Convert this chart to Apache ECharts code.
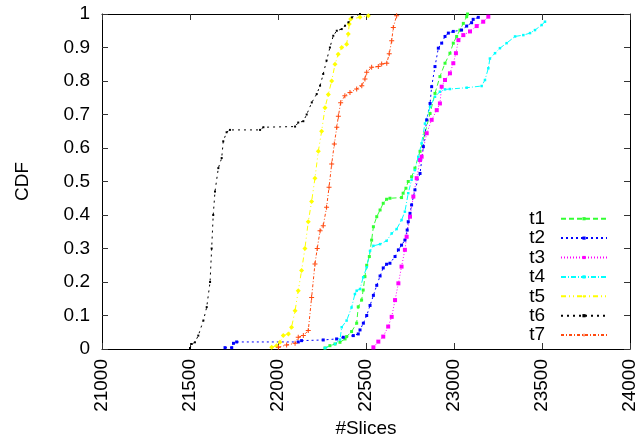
<!DOCTYPE html>
<html>
<head>
<meta charset="utf-8">
<script src="https://cdn.jsdelivr.net/npm/echarts@6/dist/echarts.min.js"></script>
<style>
html,body{margin:0;padding:0;background:#fff;overflow:hidden;}
#chart{width:638px;height:437px;}
</style>
</head>
<body>
<div id="chart"></div>
<script>
// Axis ticks
var xTicks = [21000, 21500, 22000, 22500, 23000, 23500, 24000];
var yTicks = [0, 0.1, 0.2, 0.3, 0.4, 0.5, 0.6, 0.7, 0.8, 0.9, 1];
var seriesNames = ['t1', 't2', 't3', 't4', 't5', 't6', 't7'];

// t1
var t1X = [22267, 22295, 22324, 22352, 22381, 22390, 22418, 22447, 22456, 22475, 22484, 22494, 22504, 22519, 22532, 22542, 22561, 22580, 22598, 22617, 22636, 22702, 22711, 22727, 22740, 22759, 22778, 22807, 22835, 22864, 22892, 22920, 22949, 22977, 22996, 23015, 23034, 23053, 23072, 23077];
var t1Y = [0.003, 0.01, 0.015, 0.02, 0.03, 0.037, 0.052, 0.077, 0.126, 0.146, 0.176, 0.216, 0.25, 0.276, 0.325, 0.365, 0.395, 0.415, 0.435, 0.447, 0.45, 0.452, 0.465, 0.48, 0.5, 0.514, 0.54, 0.59, 0.644, 0.703, 0.763, 0.813, 0.853, 0.883, 0.913, 0.933, 0.952, 0.972, 0.992, 1.0];
// t2
var t2X = [21699, 21737, 21747, 21765, 22115, 22134, 22257, 22333, 22371, 22428, 22456, 22466, 22485, 22504, 22523, 22542, 22561, 22580, 22598, 22617, 22636, 22665, 22684, 22702, 22721, 22734, 22740, 22750, 22759, 22778, 22807, 22826, 22845, 22864, 22873, 22892, 22911, 22930, 22949, 22968, 22996, 23043, 23072, 23100, 23109, 23138];
var t2Y = [0.004, 0.004, 0.017, 0.021, 0.021, 0.025, 0.027, 0.03, 0.035, 0.04, 0.045, 0.057, 0.077, 0.1, 0.13, 0.16, 0.19, 0.218, 0.242, 0.253, 0.256, 0.276, 0.296, 0.31, 0.325, 0.355, 0.38, 0.405, 0.43, 0.475, 0.524, 0.604, 0.684, 0.733, 0.783, 0.843, 0.898, 0.913, 0.933, 0.943, 0.948, 0.952, 0.964, 0.974, 0.984, 0.99];
// t3
var t3X = [22542, 22570, 22598, 22626, 22646, 22665, 22684, 22702, 22721, 22731, 22750, 22769, 22788, 22807, 22816, 22845, 22873, 22902, 22920, 22930, 22949, 22977, 22996, 23011, 23025, 23053, 23091, 23129, 23166, 23195];
var t3Y = [0.005, 0.022, 0.037, 0.067, 0.096, 0.146, 0.196, 0.246, 0.296, 0.335, 0.395, 0.455, 0.51, 0.564, 0.574, 0.644, 0.684, 0.713, 0.733, 0.783, 0.803, 0.823, 0.853, 0.883, 0.922, 0.937, 0.948, 0.964, 0.977, 0.992];
// t4
var t4X = [22267, 22324, 22352, 22362, 22390, 22418, 22437, 22447, 22466, 22484, 22504, 22523, 22542, 22580, 22617, 22646, 22674, 22702, 22721, 22740, 22759, 22778, 22797, 22816, 22835, 22864, 22892, 22920, 22949, 22977, 23072, 23157, 23176, 23195, 23204, 23233, 23261, 23299, 23347, 23394, 23432, 23460, 23498, 23517];
var t4Y = [0.003, 0.015, 0.028, 0.065, 0.085, 0.124, 0.164, 0.174, 0.179, 0.214, 0.244, 0.293, 0.308, 0.313, 0.323, 0.345, 0.358, 0.385, 0.41, 0.465, 0.505, 0.534, 0.574, 0.614, 0.673, 0.723, 0.753, 0.768, 0.775, 0.776, 0.78, 0.785, 0.803, 0.838, 0.867, 0.883, 0.898, 0.913, 0.933, 0.937, 0.943, 0.952, 0.967, 0.977];
// t5
var t5X = [21964, 21992, 22011, 22030, 22059, 22077, 22097, 22115, 22134, 22153, 22172, 22191, 22210, 22229, 22248, 22267, 22286, 22305, 22324, 22342, 22362, 22390, 22399, 22405, 22413, 22466, 22513];
var t5Y = [0.005, 0.01, 0.02, 0.04, 0.045, 0.065, 0.114, 0.174, 0.234, 0.3, 0.38, 0.44, 0.51, 0.59, 0.65, 0.72, 0.76, 0.8, 0.85, 0.88, 0.9, 0.91, 0.94, 0.97, 0.985, 0.99, 0.995];
// t6
var t6X = [21500, 21510, 21528, 21547, 21576, 21595, 21614, 21623, 21632, 21642, 21661, 21680, 21689, 21708, 21727, 21898, 21917, 22097, 22115, 22144, 22163, 22192, 22220, 22239, 22257, 22276, 22295, 22314, 22334, 22362, 22381, 22400, 22420, 22466];
var t6Y = [0.003, 0.015, 0.02, 0.04, 0.085, 0.125, 0.2, 0.3, 0.4, 0.47, 0.54, 0.57, 0.62, 0.647, 0.654, 0.654, 0.662, 0.664, 0.676, 0.68, 0.7, 0.736, 0.761, 0.786, 0.821, 0.861, 0.9, 0.935, 0.95, 0.955, 0.965, 0.975, 0.99, 1.0];
// t7
var t7X = [22002, 22049, 22097, 22115, 22144, 22172, 22191, 22210, 22223, 22239, 22257, 22276, 22290, 22305, 22320, 22334, 22343, 22356, 22380, 22409, 22447, 22476, 22494, 22504, 22532, 22570, 22589, 22618, 22632, 22646, 22655, 22674];
var t7Y = [0.005, 0.012, 0.017, 0.035, 0.04, 0.055, 0.154, 0.254, 0.3, 0.353, 0.368, 0.423, 0.483, 0.552, 0.612, 0.662, 0.695, 0.735, 0.756, 0.766, 0.776, 0.786, 0.806, 0.826, 0.841, 0.843, 0.851, 0.853, 0.881, 0.92, 0.96, 0.995];

var allX = [t1X, t2X, t3X, t4X, t5X, t6X, t7X];
var allY = [t1Y, t2Y, t3Y, t4Y, t5Y, t6Y, t7Y];

var colors = ['#33ff33', '#0000ff', '#ff00ff', '#00ffff', '#ffff00', '#000000', '#ff4a10'];
var dashes = [[5, 3], [2, 3], [1, 2], [5, 2, 1, 2], [5, 3, 1, 3, 1, 3], [2, 4], [3, 2, 1, 2]];
var plusPath = 'path://M4,0L6,0L6,4L10,4L10,6L6,6L6,10L4,10L4,6L0,6L0,4L4,4Z';
var symbols = ['rect', 'rect', 'rect', 'rect', 'diamond', 'rect', plusPath];
var symSizes = [3, 3, 4, 2.5, 5, 2, 5];

function zip(xs, ys) {
  var out = [];
  for (var i = 0; i < xs.length; i++) out.push([xs[i], ys[i]]);
  return out;
}

var series = seriesNames.map(function (name, i) {
  return {
    name: name,
    type: 'line',
    data: zip(allX[i], allY[i]),
    xAxisIndex: 0,
    yAxisIndex: 0,
    symbol: symbols[i],
    symbolSize: symSizes[i],
    showSymbol: true,
    showAllSymbol: true,
    animation: false,
    itemStyle: { color: colors[i] },
    lineStyle: { color: colors[i], width: 1, type: dashes[i] },
    emphasis: { disabled: true }
  };
});

var fontFam = 'Liberation Sans, Arial, Helvetica, sans-serif';
var FS = 19;
var tickStyle = { show: true, inside: true, length: 6, lineStyle: { color: '#333', width: 1 } };

var option = {
  backgroundColor: '#fff',
  animation: false,
  textStyle: { fontFamily: fontFam },
  grid: { left: 102, right: 8, top: 14, bottom: 88, containLabel: false, outerBoundsMode: 'none' },
  legend: {
    orient: 'vertical',
    right: 30,
    top: 209,
    padding: 0,
    align: 'right',
    itemWidth: 46,
    itemHeight: 4,
    itemGap: 0,
    selectedMode: false,
    data: seriesNames,
    textStyle: { fontSize: FS, color: '#000', fontFamily: fontFam, padding: [0, 11, 0, 0], lineHeight: 19.4 }
  },
  xAxis: [{
    type: 'value',
    min: 21000,
    max: 24000,
    interval: 500,
    position: 'bottom',
    name: '#Slices',
    nameLocation: 'middle',
    nameGap: 68,
    nameTextStyle: { fontSize: FS, color: '#000', fontFamily: fontFam },
    axisLine: { show: true, lineStyle: { color: '#000', width: 1 } },
    axisTick: tickStyle,
    axisLabel: { rotate: 90, fontSize: FS, color: '#000', margin: 10, fontFamily: fontFam,
      formatter: function (v) { return String(v); } },
    splitLine: { show: false }
  }, {
    type: 'value',
    min: 21000,
    max: 24000,
    interval: 500,
    position: 'top',
    axisLine: { show: true, onZero: false, lineStyle: { color: '#000', width: 1 } },
    axisTick: tickStyle,
    axisLabel: { show: false },
    splitLine: { show: false }
  }],
  yAxis: [{
    type: 'value',
    min: 0,
    max: 1,
    interval: 0.1,
    position: 'left',
    name: 'CDF',
    nameLocation: 'middle',
    nameGap: 70,
    nameRotate: 90,
    nameTextStyle: { fontSize: FS, color: '#000', fontFamily: fontFam },
    axisLine: { show: true, lineStyle: { color: '#000', width: 1 } },
    axisTick: tickStyle,
    axisLabel: { fontSize: FS, color: '#000', margin: 12, fontFamily: fontFam,
      formatter: function (v) { return String(Math.round(v * 10) / 10); } },
    splitLine: { show: false }
  }, {
    type: 'value',
    min: 0,
    max: 1,
    interval: 0.1,
    position: 'right',
    axisLine: { show: true, onZero: false, lineStyle: { color: '#000', width: 1 } },
    axisTick: tickStyle,
    axisLabel: { show: false },
    splitLine: { show: false }
  }],
  series: series
};

var chart = echarts.init(document.getElementById('chart'), null, { renderer: 'canvas' });
chart.setOption(option);
</script>
</body>
</html>
